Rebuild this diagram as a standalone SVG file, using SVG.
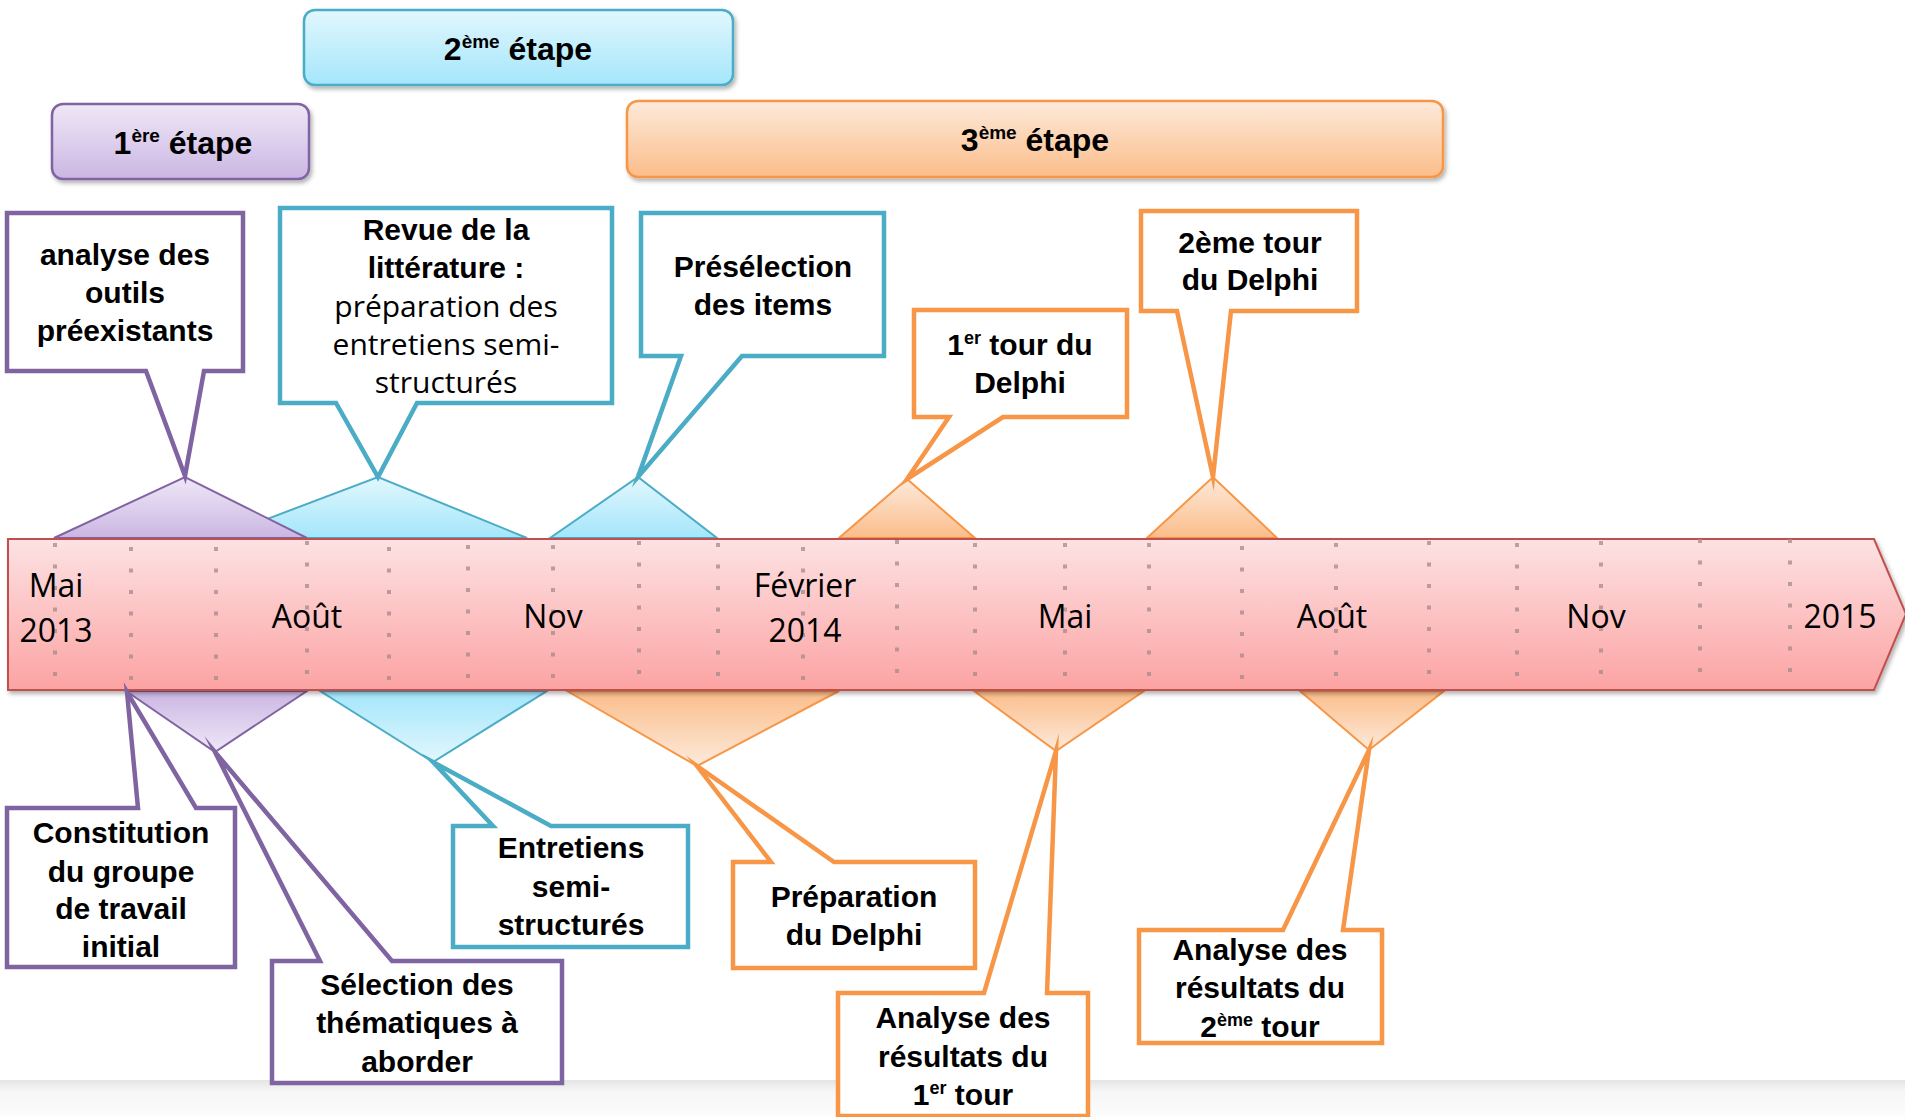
<svg xmlns="http://www.w3.org/2000/svg" width="1905" height="1117" viewBox="0 0 1905 1117">
<style>
.cb{font-family:"Liberation Sans",Arial,sans-serif;font-weight:bold;font-size:30px;fill:#000;text-anchor:middle}
.cr{font-family:"Open Sans","Liberation Sans",sans-serif;font-weight:normal;font-size:30px;fill:#000;text-anchor:middle}
.st{font-family:"Liberation Sans",Arial,sans-serif;font-weight:bold;font-size:32px;fill:#000;text-anchor:middle}
.tl{font-family:"Open Sans","Liberation Sans",sans-serif;font-size:32px;fill:#000;text-anchor:middle}
.cp{fill:#fff;stroke:#8064a2;stroke-width:4.5;stroke-linejoin:miter;stroke-miterlimit:20}
.cc{fill:#fff;stroke:#4bacc6;stroke-width:4.5;stroke-linejoin:miter;stroke-miterlimit:20}
.co{fill:#fff;stroke:#f79646;stroke-width:4.5;stroke-linejoin:miter;stroke-miterlimit:20}
.dot{stroke:#a58a8a;stroke-opacity:.75;stroke-width:4;stroke-dasharray:4 17.5;fill:none}
</style>
<defs>
<linearGradient id="gP" x1="0" y1="0" x2="0" y2="1"><stop offset="0" stop-color="#efe8f7"/><stop offset="1" stop-color="#cbb6e3"/></linearGradient>
<linearGradient id="gC" x1="0" y1="0" x2="0" y2="1"><stop offset="0" stop-color="#e2f7fd"/><stop offset="1" stop-color="#a4e6fb"/></linearGradient>
<linearGradient id="gO" x1="0" y1="0" x2="0" y2="1"><stop offset="0" stop-color="#fdeadb"/><stop offset="1" stop-color="#fbbd8a"/></linearGradient>
<linearGradient id="gPd" x1="0" y1="0" x2="0" y2="1"><stop offset="0" stop-color="#cbb6e3"/><stop offset="1" stop-color="#efe8f7"/></linearGradient>
<linearGradient id="gCd" x1="0" y1="0" x2="0" y2="1"><stop offset="0" stop-color="#a4e6fb"/><stop offset="1" stop-color="#e2f7fd"/></linearGradient>
<linearGradient id="gOd" x1="0" y1="0" x2="0" y2="1"><stop offset="0" stop-color="#fbbd8a"/><stop offset="1" stop-color="#fdeadb"/></linearGradient>
<linearGradient id="gR" x1="0" y1="0" x2="0" y2="1"><stop offset="0" stop-color="#fde2e3"/><stop offset="1" stop-color="#fca3a3"/></linearGradient>
<linearGradient id="gB" x1="0" y1="0" x2="0" y2="1"><stop offset="0" stop-color="#e4e4e4"/><stop offset="0.3" stop-color="#f6f6f6"/><stop offset="1" stop-color="#fcfcfc"/></linearGradient>
<filter id="sh" x="-5%" y="-20%" width="110%" height="150%"><feDropShadow dx="2" dy="3" stdDeviation="2" flood-color="#000" flood-opacity="0.3"/></filter>
</defs>
<rect x="0" y="0" width="1905" height="1117" fill="#fff"/>
<rect x="0" y="1080" width="1905" height="37" fill="url(#gB)"/>

<g id="stage1"><rect x="52" y="104" width="257" height="75" rx="11" fill="url(#gP)" stroke="#8064a2" stroke-width="2.5" filter="url(#sh)"/>
<text class="st" x="183" y="154">1<tspan font-size="19" dy="-12">ère</tspan><tspan dy="12"> étape</tspan></text></g>
<g id="stage2"><rect x="304" y="10" width="429" height="75" rx="11" fill="url(#gC)" stroke="#4bacc6" stroke-width="2.5" filter="url(#sh)"/>
<text class="st" x="518" y="60">2<tspan font-size="19" dy="-12">ème</tspan><tspan dy="12"> étape</tspan></text></g>
<g id="stage3"><rect x="627" y="101" width="816" height="76" rx="11" fill="url(#gO)" stroke="#f79646" stroke-width="2.5" filter="url(#sh)"/>
<text class="st" x="1035" y="151">3<tspan font-size="19" dy="-12">ème</tspan><tspan dy="12"> étape</tspan></text></g>

<g id="triangles">
<polygon points="217,538 378,477 527,538" fill="url(#gC)" stroke="#4bacc6" stroke-width="2"/>
<polygon points="54,538 185,477 307,538" fill="url(#gP)" stroke="#8064a2" stroke-width="2"/>
<polygon points="550,538 638,477 717,538" fill="url(#gC)" stroke="#4bacc6" stroke-width="2"/>
<polygon points="839,538 907,479 975,538" fill="url(#gO)" stroke="#f79646" stroke-width="2"/>
<polygon points="1147,538 1213,477 1277,538" fill="url(#gO)" stroke="#f79646" stroke-width="2"/>
<polygon points="126,691 215,752 307,691" fill="url(#gPd)" stroke="#8064a2" stroke-width="2"/>
<polygon points="320,691 433,762 547,691" fill="url(#gCd)" stroke="#4bacc6" stroke-width="2"/>
<polygon points="567,691 697,766 839,691" fill="url(#gOd)" stroke="#f79646" stroke-width="2"/>
<polygon points="974,691 1056,751 1144,691" fill="url(#gOd)" stroke="#f79646" stroke-width="2"/>
<polygon points="1300,691 1369,750 1444,691" fill="url(#gOd)" stroke="#f79646" stroke-width="2"/>
</g>

<g id="timeline">
<path d="M8,539 H1874 L1906,614 L1874,690 H8 Z" fill="url(#gR)" stroke="#c0504d" stroke-width="2" filter="url(#sh)"/>
<g class="dot">
<line x1="55" y1="543" x2="55" y2="688"/><line x1="131" y1="547" x2="131" y2="688"/><line x1="216" y1="547" x2="216" y2="688"/>
<line x1="307" y1="541" x2="307" y2="688"/><line x1="389" y1="547" x2="389" y2="688"/><line x1="468" y1="545" x2="468" y2="688"/>
<line x1="553" y1="545" x2="553" y2="688"/><line x1="639" y1="541" x2="639" y2="688"/><line x1="718" y1="543" x2="718" y2="688"/>
<line x1="803" y1="547" x2="803" y2="688"/><line x1="897" y1="540" x2="897" y2="688"/><line x1="975" y1="543" x2="975" y2="688"/>
<line x1="1065" y1="543" x2="1065" y2="688"/><line x1="1149" y1="543" x2="1149" y2="688"/><line x1="1242" y1="546" x2="1242" y2="688"/>
<line x1="1336" y1="543" x2="1336" y2="688"/><line x1="1429" y1="541" x2="1429" y2="688"/><line x1="1517" y1="543" x2="1517" y2="688"/>
<line x1="1601" y1="541" x2="1601" y2="688"/><line x1="1700" y1="539" x2="1700" y2="688"/><line x1="1790" y1="539" x2="1790" y2="688"/>
</g>
<text class="tl" x="56" y="597">Mai</text><text class="tl" x="56" y="642">2013</text>
<text class="tl" x="307" y="628">Août</text>
<text class="tl" x="553" y="628">Nov</text>
<text class="tl" x="805" y="597">Février</text><text class="tl" x="805" y="642">2014</text>
<text class="tl" x="1065" y="628">Mai</text>
<text class="tl" x="1332" y="628">Août</text>
<text class="tl" x="1596" y="628">Nov</text>
<text class="tl" x="1840" y="628">2015</text>
</g>

<g id="callout-analyse-outils"><path class="cp" d="M7,213 H243 V371 H204 L185,476 L146,371 H7 Z"/>
<text class="cb" x="125" y="265">analyse des</text><text class="cb" x="125" y="303">outils</text><text class="cb" x="125" y="341">préexistants</text></g>

<g id="callout-revue"><path class="cc" d="M280,208 H612 V403 H417 L378,477 L336,403 H280 Z"/>
<text class="cb" x="446" y="240">Revue de la</text><text class="cb" x="446" y="278">littérature :</text>
<text class="cr" x="446" y="317">préparation des</text><text class="cr" x="446" y="355">entretiens semi-</text><text class="cr" x="446" y="393">structurés</text></g>

<g id="callout-preselection"><path class="cc" d="M641,213 H884 V356 H742 L638,477 L681,356 H641 Z"/>
<text class="cb" x="763" y="277">Présélection</text><text class="cb" x="763" y="315">des items</text></g>

<g id="callout-1er-tour"><path class="co" d="M914,310 H1127 V417 H1003 L907,479 L949,417 H914 Z"/>
<text class="cb" x="1020" y="355">1<tspan font-size="18" dy="-11">er</tspan><tspan dy="11"> tour du</tspan></text><text class="cb" x="1020" y="393">Delphi</text></g>

<g id="callout-2eme-tour"><path class="co" d="M1141,211 H1357 V311 H1231 L1213,477 L1177,311 H1141 Z"/>
<text class="cb" x="1250" y="253">2ème tour</text><text class="cb" x="1250" y="290">du Delphi</text></g>

<g id="callout-constitution"><path class="cp" d="M7,808 H138 L127,692 L196,808 H235 V967 H7 Z"/>
<text class="cb" x="121" y="843">Constitution</text><text class="cb" x="121" y="882">du groupe</text><text class="cb" x="121" y="919">de travail</text><text class="cb" x="121" y="957">initial</text></g>

<g id="callout-selection"><path class="cp" d="M272,961 H320 L215,752 L392,961 H562 V1083 H272 Z"/>
<text class="cb" x="417" y="995">Sélection des</text><text class="cb" x="417" y="1033">thématiques à</text><text class="cb" x="417" y="1072">aborder</text></g>

<g id="callout-entretiens"><path class="cc" d="M453,826 H493 L433,762 L551,826 H688 V947 H453 Z"/>
<text class="cb" x="571" y="858">Entretiens</text><text class="cb" x="571" y="897">semi-</text><text class="cb" x="571" y="935">structurés</text></g>

<g id="callout-preparation"><path class="co" d="M733,862 H771 L697,766 L834,862 H975 V968 H733 Z"/>
<text class="cb" x="854" y="907">Préparation</text><text class="cb" x="854" y="945">du Delphi</text></g>

<g id="callout-analyse-1er"><path class="co" d="M838,993 H984 L1056,751 L1047,993 H1088 V1116 H838 Z"/>
<text class="cb" x="963" y="1028">Analyse des</text><text class="cb" x="963" y="1067">résultats du</text>
<text class="cb" x="963" y="1105">1<tspan font-size="18" dy="-11">er</tspan><tspan dy="11"> tour</tspan></text></g>

<g id="callout-analyse-2eme"><path class="co" d="M1139,930 H1283 L1369,750 L1343,930 H1382 V1043 H1139 Z"/>
<text class="cb" x="1260" y="960">Analyse des</text><text class="cb" x="1260" y="998">résultats du</text>
<text class="cb" x="1260" y="1037">2<tspan font-size="18" dy="-11">ème</tspan><tspan dy="11"> tour</tspan></text></g>
</svg>
